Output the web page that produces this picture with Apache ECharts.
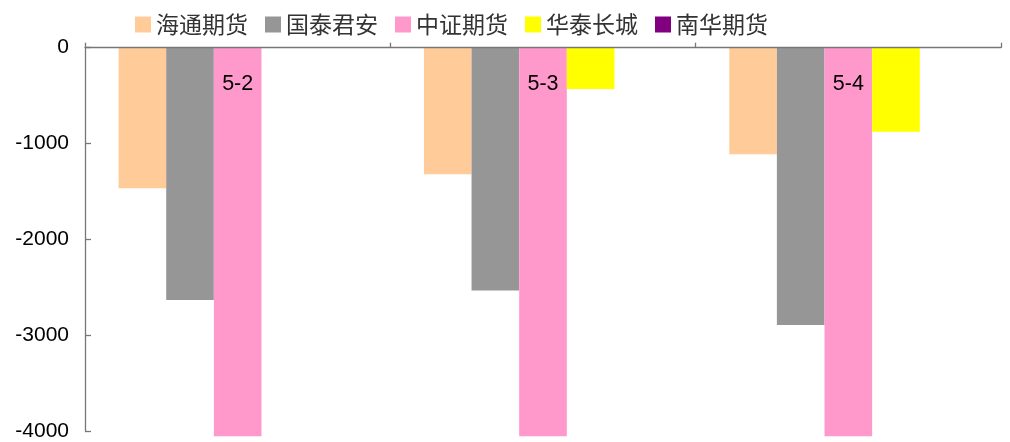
<!DOCTYPE html>
<html><head><meta charset="utf-8">
<script src="https://cdn.jsdelivr.net/npm/echarts@6/dist/echarts.min.js"></script>
<style>html,body{margin:0;padding:0;background:#fff}#c{width:1010px;height:442px}</style>
</head><body><div id="c"></div>
<script>
const categories = ['5-2', '5-3', '5-4'];
const seriesNames = ['海通期货', '国泰君安', '中证期货', '华泰长城', '南华期货'];
const haitong = [-1465, -1320, -1110];
const guotai = [-2630, -2530, -2890];
const zhongzheng = [-4050, -4050, -4050];
const huatai = [null, -430, -875];
const nanhua = [null, null, null];
const colors = ['#FFCC99', '#969696', '#FF99CC', '#FFFF00', '#800080'];
const yTicks = { min: -4000, max: 0, interval: 1000 };

const values = [haitong, guotai, zhongzheng, huatai, nanhua];
const chart = echarts.init(document.getElementById('c'), null, { renderer: 'canvas' });
chart.setOption({
  animation: false,
  color: colors,
  legend: {
    left: 130, top: 8,
    itemWidth: 16, itemHeight: 16, itemGap: 17,
    icon: 'rect',
    textStyle: { fontFamily: '"Noto Sans CJK SC", sans-serif', fontSize: 23, color: '#333' },
    data: seriesNames
  },
  grid: { left: 85, right: 9, top: 47.7, bottom: 8.7, containLabel: false },
  xAxis: {
    type: 'category',
    position: 'top',
    z: 10,
    data: categories,
    axisLine: { lineStyle: { color: '#777', width: 1.3 } },
    axisTick: { show: true, length: 5, lineStyle: { color: '#777', width: 1.3 } },
    axisLabel: { inside: true, margin: 25, fontFamily: 'Liberation Sans, Arial, sans-serif', fontSize: 21.5, color: '#000' },
    splitLine: { show: false }
  },
  yAxis: {
    type: 'value',
    min: yTicks.min, max: yTicks.max, interval: yTicks.interval,
    axisLine: { show: true, lineStyle: { color: '#777', width: 1.3 } },
    axisTick: { show: true, inside: true, length: 6, lineStyle: { color: '#777', width: 1.3 } },
    axisLabel: { margin: 16, fontFamily: 'Liberation Sans, Arial, sans-serif', fontSize: 21, color: '#000', formatter: v => String(v) },
    splitLine: { show: false }
  },
  series: seriesNames.map((n, i) => ({
    name: n,
    type: 'bar',
    data: values[i],
    barGap: '0%',
    barCategoryGap: '22%',
    clip: false,
    itemStyle: { color: colors[i] }
  }))
});
</script></body></html>
